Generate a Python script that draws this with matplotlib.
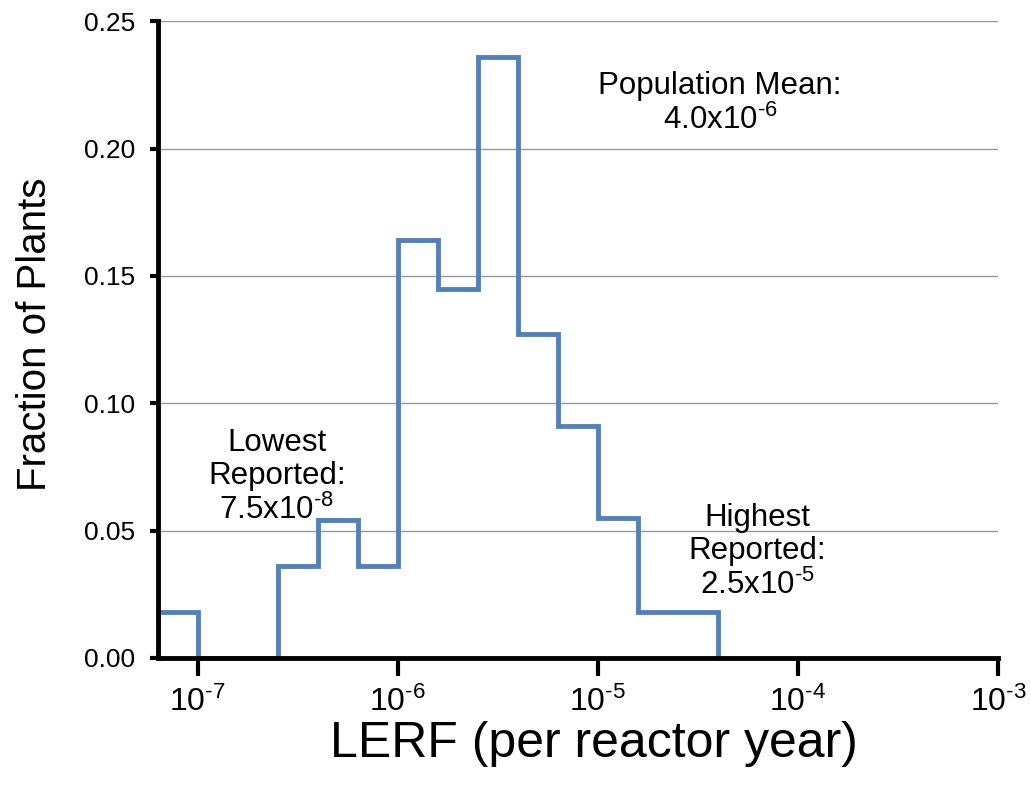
import matplotlib
matplotlib.use('Agg')
import matplotlib.pyplot as plt
import numpy as np

plt.rcParams['font.family'] = ['Liberation Sans', 'DejaVu Sans']
plt.rcParams['mathtext.fontset'] = 'custom'
plt.rcParams['mathtext.rm'] = 'Liberation Sans'
plt.rcParams['mathtext.it'] = 'Liberation Sans:italic'
plt.rcParams['mathtext.bf'] = 'Liberation Sans:bold'

# 数据: 直方图分箱边界 (log10) 和电厂比例
bin_edges_exp = [-7.2, -7.0, -6.8, -6.6, -6.4, -6.2, -6.0, -5.8,
                 -5.6, -5.4, -5.2, -5.0, -4.8, -4.6, -4.4]
fraction = [0.018, 0.0, 0.0, 0.036, 0.054, 0.036, 0.164, 0.145,
            0.236, 0.127, 0.091, 0.055, 0.018, 0.018]
y_ticks = [0.00, 0.05, 0.10, 0.15, 0.20, 0.25]
x_tick_exp = [-7, -6, -5, -4, -3]

edges = 10.0 ** np.array(bin_edges_exp)

fig = plt.figure(figsize=(10.31, 7.85), dpi=100)
ax = fig.add_axes([0.153, 0.162, 0.815, 0.811])

ax.stairs(fraction, edges, baseline=0, color='#4F81BD', linewidth=3.5, zorder=2)

ax.set_xscale('log')
ax.set_xlim(10 ** -7.2, 1e-3)
ax.set_ylim(0, 0.25)
ax.set_xticks([10.0 ** e for e in x_tick_exp])
ax.set_xticklabels([r'$10^{\text{%d}}$' % e for e in x_tick_exp])
ax.xaxis.set_minor_locator(matplotlib.ticker.NullLocator())
ax.set_yticks(y_ticks)
ax.set_yticklabels([f'{v:.2f}' for v in y_ticks])

ax.grid(True, axis='y', color='#999999', linewidth=1.0, zorder=0)
ax.set_axisbelow(True)

for s in ['top', 'right']:
    ax.spines[s].set_visible(False)
for s in ['left', 'bottom']:
    ax.spines[s].set_linewidth(3.5)
    ax.spines[s].set_zorder(3)

ax.tick_params(axis='x', direction='out', length=13, width=3, pad=8, labelsize=23)
ax.tick_params(axis='y', direction='out', length=6, width=3, pad=10, labelsize=19)

ax.set_xlabel('LERF (per reactor year)', fontsize=36)
ax.xaxis.set_label_coords(0.519, -0.1)
ax.set_ylabel('Fraction of Plants', fontsize=29)
ax.yaxis.set_label_coords(-0.124, 0.509)

# 注释文字
ax.text(10 ** -4.39, 0.2175, 'Population Mean:\n4.0x10$^{\\text{-6}}$',
        ha='center', va='center', fontsize=22.5, linespacing=1.15)
ax.text(10 ** -6.605, 0.071, 'Lowest\nReported:\n7.5x10$^{\\text{-8}}$',
        ha='center', va='center', fontsize=22.5, linespacing=1.15)
ax.text(10 ** -4.205, 0.0415, 'Highest\nReported:\n2.5x10$^{\\text{-5}}$',
        ha='center', va='center', fontsize=22.5, linespacing=1.15)

plt.savefig('out.png', dpi=100)
